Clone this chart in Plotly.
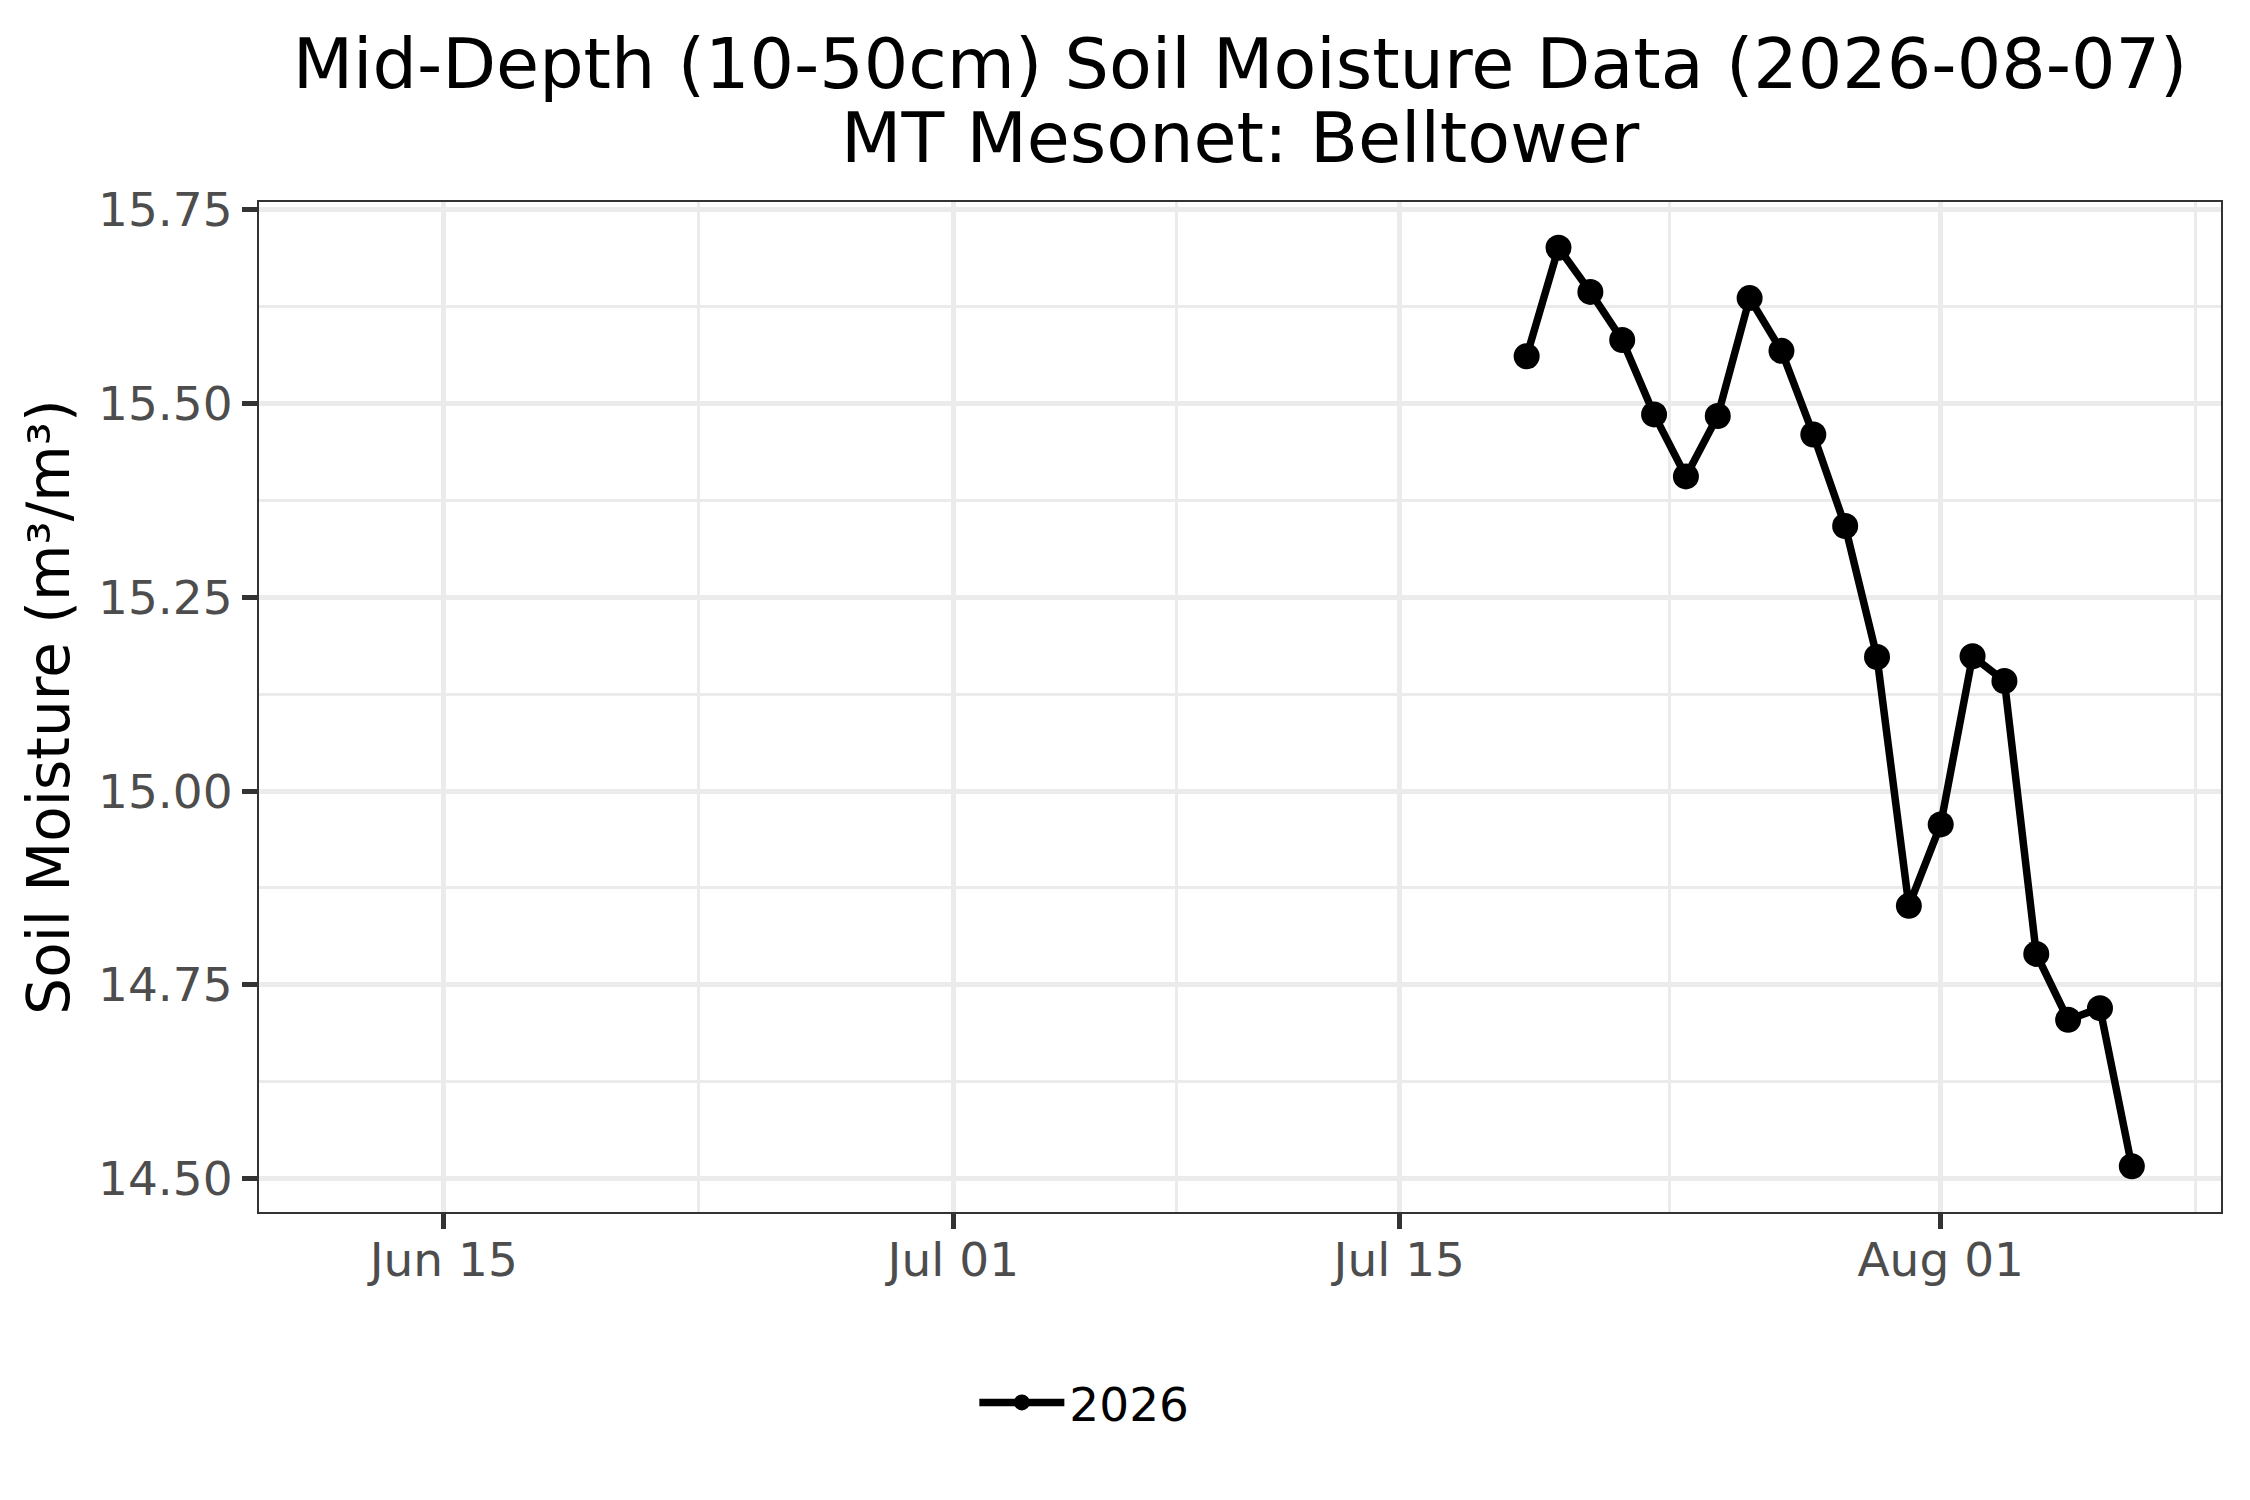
import plotly.graph_objects as go

# daily mid-depth soil moisture, Belltower station
dates = ['2026-07-19', '2026-07-20', '2026-07-21', '2026-07-22', '2026-07-23',
         '2026-07-24', '2026-07-25', '2026-07-26', '2026-07-27', '2026-07-28',
         '2026-07-29', '2026-07-30', '2026-07-31', '2026-08-01', '2026-08-02',
         '2026-08-03', '2026-08-04', '2026-08-05', '2026-08-06', '2026-08-07']
moisture = [15.561, 15.701, 15.644, 15.582, 15.486,
            15.406, 15.484, 15.636, 15.568, 15.460,
            15.342, 15.173, 14.852, 14.957, 15.174,
            15.142, 14.790, 14.705, 14.720, 14.516]
series_name = '2026'

x_ticks = ['2026-06-15', '2026-07-01', '2026-07-15', '2026-08-01']
x_labels = ['Jun 15', 'Jul 01', 'Jul 15', 'Aug 01']
x_minor = ['2026-06-23', '2026-07-08', '2026-07-23 12:00', '2026-08-09']
y_ticks = [14.50, 14.75, 15.00, 15.25, 15.50, 15.75]
y_labels = ['14.50', '14.75', '15.00', '15.25', '15.50', '15.75']
y_minor = [14.625, 14.875, 15.125, 15.375, 15.625]

fig = go.Figure()
fig.add_trace(go.Scatter(
    x=dates, y=moisture,
    mode='lines+markers',
    name=series_name,
    line=dict(color='black', width=7.5),
    marker=dict(color='black', size=26),
))

axis_common = dict(
    showline=True, mirror=True, linecolor='#333333', linewidth=2,
    ticks='outside', tickcolor='#333333', ticklen=15, tickwidth=5,
    showgrid=True, gridcolor='#EBEBEB', gridwidth=5.3,
    zeroline=False,
    tickfont=dict(size=47, color='#4D4D4D'),
)

fig.update_layout(
    width=2250, height=1500,
    margin=dict(l=251, r=37, t=194, b=296),
    paper_bgcolor='white', plot_bgcolor='white',
    font=dict(family='DejaVu Sans', color='black'),
    title=dict(
        text='Mid-Depth (10-50cm) Soil Moisture Data (2026-08-07)',
        x=0.5, xref='paper', xanchor='center',
        y=1 - 55 / 1500, yref='container', yanchor='middle',
        font=dict(size=70, color='black'),
    ),
    xaxis=dict(
        type='date',
        range=['2026-06-09 04:48', '2026-08-09 19:12'],
        tickmode='array', tickvals=x_ticks, ticktext=x_labels,
        ticklabelstandoff=-9,
        minor=dict(tickmode='array', tickvals=x_minor, showgrid=True,
                   gridcolor='#EBEBEB', gridwidth=2.7, ticklen=0),
        **axis_common,
    ),
    yaxis=dict(
        range=[14.457, 15.760],
        tickmode='array', tickvals=y_ticks, ticktext=y_labels,
        minor=dict(tickmode='array', tickvals=y_minor, showgrid=True,
                   gridcolor='#EBEBEB', gridwidth=2.7, ticklen=0),
        title=dict(text='Soil Moisture (m³/m³)', font=dict(size=58, color='black'),
                   standoff=10),
        **axis_common,
    ),
    showlegend=True,
    legend=dict(
        orientation='h', x=0.3646, xanchor='left', y=-0.189, yanchor='middle',
        itemwidth=85,
        font=dict(size=47, color='black'), bgcolor='rgba(0,0,0,0)',
    ),
    annotations=[dict(
        text='MT Mesonet: Belltower', showarrow=False,
        xref='paper', yref='paper', x=0.5, xanchor='center',
        y=1 + 64 / 1010, yanchor='middle',
        font=dict(size=70, color='black'),
    )],
)

fig.write_html('out.html')
